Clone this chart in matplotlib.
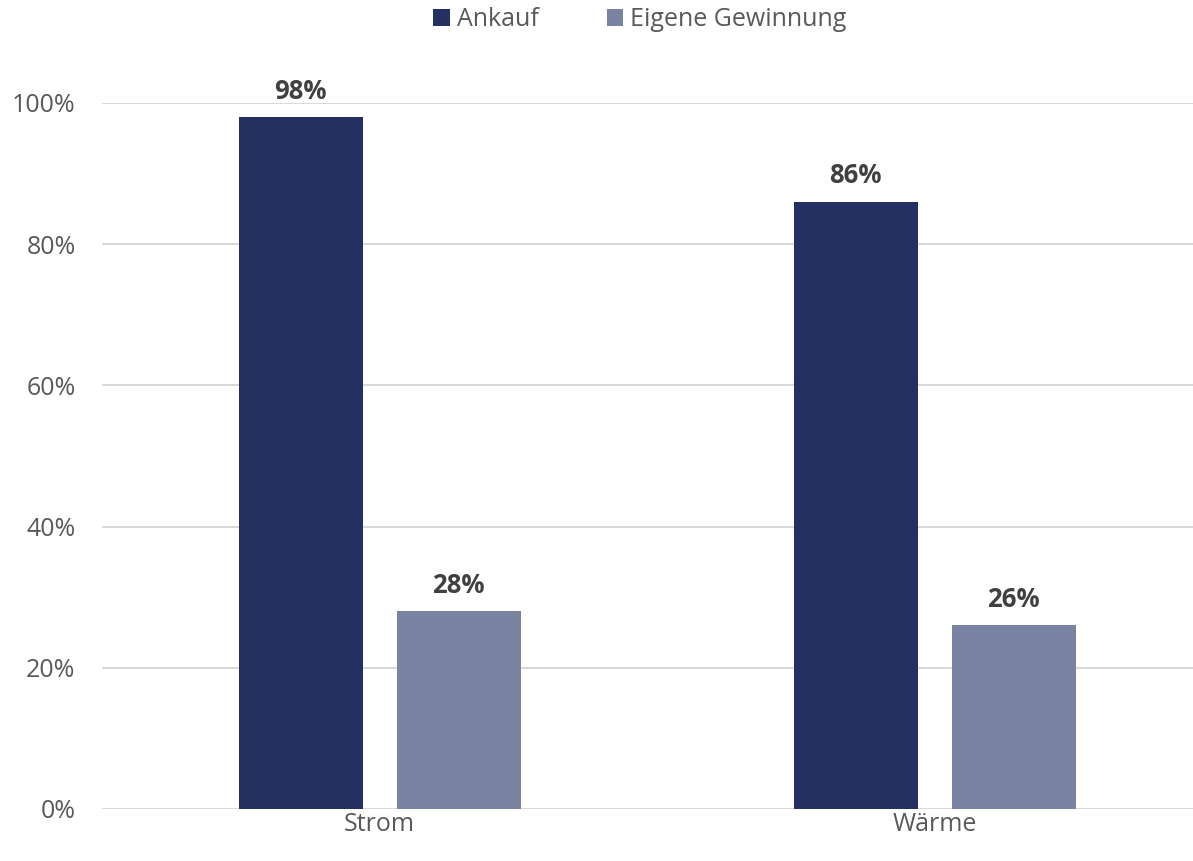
import matplotlib
matplotlib.use("Agg")
import matplotlib.pyplot as plt
import numpy as np
from matplotlib.patches import Patch

plt.rcParams['font.family'] = ['Open Sans', 'DejaVu Sans']

categories = ["Strom", "Wärme"]
series_names = ["Ankauf", "Eigene Gewinnung"]
ankauf = [98, 86]
eigene = [28, 26]
yticks = [0, 20, 40, 60, 80, 100]
ytick_labels = ["0%", "20%", "40%", "60%", "80%", "100%"]

colors = ["#243062", "#7A83A1"]
text_gray = "#595959"
label_gray = "#404040"

W, H = 1193, 861
fig = plt.figure(figsize=(W / 100, H / 100), dpi=100)
ax = fig.add_axes([102 / W, (H - 809) / H, (W - 102) / W, 706 / H])

x = np.arange(len(categories))
width = 0.2234
offset = 0.1423

for vals, off, col in [(ankauf, -offset, colors[0]), (eigene, offset, colors[1])]:
    bars = ax.bar(x + off, vals, width, color=col, zorder=3)
    for b, v in zip(bars, vals):
        ax.annotate(f"{v}%", (b.get_x() + b.get_width() / 2, v),
                    xytext=(0, 9), textcoords="offset points",
                    ha="center", va="bottom", fontsize=18.5,
                    fontweight="bold", color=label_gray, annotation_clip=False)

ax.set_xlim(-0.5, 1.465)
ax.set_ylim(0, 100)
ax.set_yticks(yticks)
ax.set_yticklabels(ytick_labels)
ax.set_xticks(x)
ax.set_xticklabels(categories)
ax.tick_params(axis="y", length=0, pad=19, labelsize=18, labelcolor=text_gray)
ax.tick_params(axis="x", length=0, pad=2, labelsize=18, labelcolor=text_gray)
ax.grid(axis="y", color="#D9D9D9", linewidth=1.5, zorder=0)
for s in ax.spines.values():
    s.set_visible(False)

handles = [Patch(facecolor=c, edgecolor="none") for c in colors]
fig.legend(handles, series_names, loc="center", bbox_to_anchor=(640 / W, 1 - 20 / H),
           ncol=2, frameon=False, fontsize=18, labelcolor=text_gray,
           handlelength=0.65, handleheight=0.65, handletextpad=0.3, columnspacing=2.7)

fig.savefig("out.png", dpi=100)
